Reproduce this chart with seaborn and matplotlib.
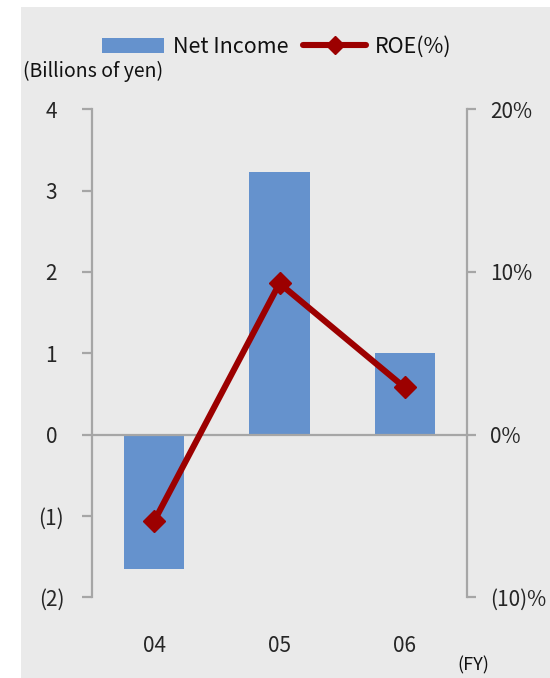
import matplotlib
matplotlib.use("Agg")
import matplotlib.pyplot as plt
from matplotlib.patches import Rectangle, Patch
from matplotlib.lines import Line2D
import seaborn as sns
import pandas as pd

# Fiscal-year results
fiscal_years = ["04", "05", "06"]
net_income = [-1.65, 3.23, 1.00]        # billions of yen
roe_pct = [-5.3, 9.3, 2.9]             # %

left_ticks = [-2, -1, 0, 1, 2, 3, 4]
left_labels = ["(2)", "(1)", "0", "1", "2", "3", "4"]
right_ticks = [-10, 0, 10, 20]
right_labels = ["(10)%", "0%", "10%", "20%"]

BLUE = "#6592CD"
RED = "#9C0000"
AXIS_GREY = "#A6A6A6"
BG = "#EAEAEA"

sns.set_theme(style="white")
plt.rcParams["font.family"] = ["Noto Sans CJK JP", "DejaVu Sans"]
plt.rcParams["text.color"] = "#111111"

df = pd.DataFrame({"fy": fiscal_years, "net_income": net_income, "roe": roe_pct})

fig = plt.figure(figsize=(5.5, 6.78), dpi=100)
fig.patch.set_facecolor("white")
fig.patches.append(Rectangle((21 / 550, 0), 1, 1 - 7 / 678, transform=fig.transFigure,
                             facecolor=BG, edgecolor="none", zorder=-10))

ax = fig.add_axes([91.7 / 550, 1 - 597.3 / 678, (467.3 - 91.7) / 550, (597.3 - 109.3) / 678])
ax.patch.set_visible(False)

sns.barplot(data=df, x="fy", y="net_income", order=fiscal_years, color=BLUE,
            saturation=1, width=0.48, linewidth=0, edgecolor="none", ax=ax, zorder=2)
ax.set_ylim(-2, 4)
ax.axhline(0, color=AXIS_GREY, lw=1.6, zorder=3)

ax2 = ax.twinx()
ax2.patch.set_visible(False)
sns.pointplot(data=df, x="fy", y="roe", order=fiscal_years, color=RED, markers="D",
              linestyles="-", linewidth=4.4, markersize=11, markeredgewidth=1,
              ax=ax2, zorder=5)
ax2.set_ylim(-10, 20)
ax.set_xlim(-0.5, 2.5)

# Spines and ticks
for a in (ax, ax2):
    for s in ("top", "bottom"):
        a.spines[s].set_visible(False)
    a.set_xlabel("")
    a.set_ylabel("")
ax.spines["right"].set_visible(False)
ax2.spines["left"].set_visible(False)
ax.spines["left"].set_color(AXIS_GREY)
ax.spines["left"].set_linewidth(1.6)
ax2.spines["right"].set_color(AXIS_GREY)
ax2.spines["right"].set_linewidth(1.6)

ax.set_yticks(left_ticks)
ax.set_yticklabels(left_labels)
ax.tick_params(axis="y", direction="out", length=7, width=1.6, color=AXIS_GREY,
               labelsize=15, pad=22, left=True)
for lab in ax.get_yticklabels():
    lab.set_horizontalalignment("center")

ax2.set_yticks(right_ticks)
ax2.set_yticklabels(right_labels)
ax2.tick_params(axis="y", direction="out", length=6.5, width=1.6, color=AXIS_GREY,
                labelsize=15, pad=10, right=True)

ax.tick_params(axis="x", length=0, labelsize=15, pad=27)
ax2.tick_params(axis="x", length=0, labelbottom=False)
ax.set_xticks(range(len(fiscal_years)))
ax.set_xticklabels(fiscal_years)

# Unit captions
fig.text(23 / 550, 1 - 71.5 / 678, "(Billions of yen)", fontsize=14, ha="left", va="center")
fig.text(473 / 550, 1 - 665 / 678, "(FY)", fontsize=13, ha="center", va="center")

handles = [
    Patch(facecolor=BLUE, edgecolor="none", label="Net Income"),
    Line2D([], [], color=RED, lw=4.4, marker="D", markersize=9, label="ROE(%)"),
]
ax2.legend(handles=handles, ncol=2, loc="center", bbox_to_anchor=(276.5 / 550, 1 - 47 / 678),
           bbox_transform=fig.transFigure, frameon=False, fontsize=15.5,
           handlelength=2.9, handletextpad=0.4, columnspacing=0.7, borderaxespad=0)

fig.savefig("out.png", dpi=100, facecolor=fig.get_facecolor())
